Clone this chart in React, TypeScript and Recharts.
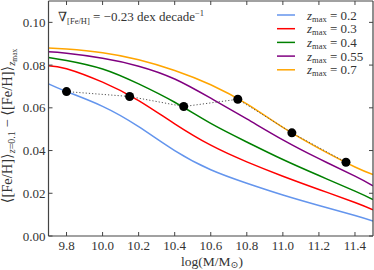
import React from 'react';
import { LineChart, Line, XAxis, YAxis, Customized } from 'recharts';

const masses = [9.7, 9.8, 10.0, 10.2, 10.4, 10.6, 10.8, 11.0, 11.2, 11.4, 11.5];
const z02 = [0.0712, 0.0676, 0.0607, 0.0512, 0.0400, 0.0310, 0.0247, 0.0192, 0.0143, 0.0096, 0.0070];
const z03 = [0.0797, 0.0783, 0.0720, 0.0634, 0.0525, 0.0425, 0.0347, 0.0280, 0.0218, 0.0157, 0.0123];
const z04 = [0.0836, 0.0822, 0.0782, 0.0712, 0.0626, 0.0527, 0.0440, 0.0358, 0.0283, 0.0210, 0.0171];
const z055 = [0.0862, 0.0855, 0.0832, 0.0795, 0.0735, 0.0645, 0.0548, 0.0450, 0.0362, 0.0280, 0.0235];
const z07 = [0.0880, 0.0875, 0.0858, 0.0825, 0.0775, 0.0708, 0.0618, 0.0508, 0.0410, 0.0323, 0.0288];

const dotMasses = [9.8, 10.15, 10.45, 10.75, 11.05, 11.35];
const dotValues = [0.0676, 0.0653, 0.0606, 0.064, 0.0483, 0.0345];

const xTicks = [9.8, 10.0, 10.2, 10.4, 10.6, 10.8, 11.0, 11.2, 11.4];
const yTicks = [0.0, 0.02, 0.04, 0.06, 0.08, 0.1];

const seriesNames = ['0.2', '0.3', '0.4', '0.55', '0.7'];
const seriesKeys = ['z02', 'z03', 'z04', 'z055', 'z07'];
const seriesColors = ['#6495ED', '#FF0000', '#008000', '#800080', '#FFA500'];
const seriesValues = [z02, z03, z04, z055, z07];

const data = masses.map((m, i) => {
  const row: Record<string, number> = { m };
  seriesKeys.forEach((k, j) => {
    row[k] = seriesValues[j][i];
  });
  return row;
});
const dotData = dotMasses.map((m, i) => ({ m, v: dotValues[i] }));

const FONT = '"Liberation Serif", "DejaVu Serif", serif';
const TXT = '#333';
const FRAME = '#444';

const BottomTick = (p: any) => (
  <g>
    <line x1={p.x} y1={p.y} x2={p.x} y2={p.y - 4} stroke={FRAME} strokeWidth={1} />
    <text x={p.x} y={p.y + 14} textAnchor="middle" fontFamily={FONT} fontSize={13} fill={TXT}>
      {Number(p.payload.value).toFixed(1)}
    </text>
  </g>
);
const TopTick = (p: any) => (
  <line x1={p.x} y1={p.y} x2={p.x} y2={p.y + 4} stroke={FRAME} strokeWidth={1} />
);
const LeftTick = (p: any) => (
  <g>
    <line x1={p.x} y1={p.y} x2={p.x + 4} y2={p.y} stroke={FRAME} strokeWidth={1} />
    <text x={p.x - 3} y={p.y + 4.5} textAnchor="end" fontFamily={FONT} fontSize={13} fill={TXT}>
      {Number(p.payload.value).toFixed(2)}
    </text>
  </g>
);
const RightTick = (p: any) => (
  <line x1={p.x} y1={p.y} x2={p.x - 4} y2={p.y} stroke={FRAME} strokeWidth={1} />
);

const Extras = () => (
  <g fontFamily={FONT} fill={TXT}>
    <text x={58} y={21} fontSize={13}>
      <tspan>∇</tspan>
      <tspan fontSize={8.5} dy={3}>[Fe/H]</tspan>
      <tspan dy={-3}> = −0.23 dex decade</tspan>
      <tspan fontSize={8.5} dy={-5}>−1</tspan>
    </text>
    <text transform="translate(12,126) rotate(-90)" textAnchor="middle" fontSize={14.5}>
      <tspan>⟨[Fe/H]⟩</tspan>
      <tspan fontSize={10} dy={3} fontStyle="italic">z</tspan>
      <tspan fontSize={10}>=0.1</tspan>
      <tspan dy={-3}> − ⟨[Fe/H]⟩</tspan>
      <tspan fontSize={10.5} dy={3} fontStyle="italic">z</tspan>
      <tspan fontSize={7.5} dy={1.5}>max</tspan>
    </text>
    <text x={212} y={266} textAnchor="middle" fontSize={13.5}>
      log(M/M<tspan fontSize={9.5} dy={2}>⊙</tspan><tspan dy={-2}>)</tspan>
    </text>
    {seriesNames.map((n, i) => (
      <g key={n}>
        <line x1={277} x2={295} y1={15 + i * 13.7} y2={15 + i * 13.7} stroke={seriesColors[i]} strokeWidth={1.5} />
        <text x={307} y={19.5 + i * 13.7} fontSize={13}>
          <tspan fontStyle="italic">z</tspan>
          <tspan fontSize={8.5} dy={2}>max</tspan>
          <tspan dy={-2}> = {n}</tspan>
        </text>
      </g>
    ))}
  </g>
);

export default function App() {
  return (
    <div style={{ position: 'absolute', left: 0, top: 0 }}>
      <LineChart width={374} height={270} data={data} margin={{ top: 0, right: 0, bottom: 14, left: 0 }}>
        <XAxis
          dataKey="m"
          type="number"
          domain={[9.7, 11.5]}
          ticks={xTicks}
          allowDataOverflow
          height={20}
          tickSize={0}
          tickMargin={0}
          tickLine={false}
          tick={<BottomTick />}
          axisLine={{ stroke: FRAME, strokeWidth: 1.2 }}
        />
        <XAxis
          xAxisId="top"
          orientation="top"
          dataKey="m"
          type="number"
          domain={[9.7, 11.5]}
          ticks={xTicks}
          allowDataOverflow
          height={1}
          tickSize={0}
          tickMargin={0}
          tickLine={false}
          tick={<TopTick />}
          axisLine={{ stroke: FRAME, strokeWidth: 1.2 }}
        />
        <YAxis
          type="number"
          domain={[0, 0.11]}
          ticks={yTicks}
          allowDataOverflow
          width={48.5}
          tickSize={0}
          tickMargin={0}
          tickLine={false}
          tick={<LeftTick />}
          axisLine={{ stroke: FRAME, strokeWidth: 1.2 }}
        />
        <YAxis
          yAxisId="right"
          orientation="right"
          type="number"
          domain={[0, 0.11]}
          ticks={yTicks}
          allowDataOverflow
          width={1}
          tickSize={0}
          tickMargin={0}
          tickLine={false}
          tick={<RightTick />}
          axisLine={{ stroke: FRAME, strokeWidth: 1.2 }}
        />
        {seriesKeys.map((k, i) => (
          <Line
            key={k}
            dataKey={k}
            type="natural"
            stroke={seriesColors[i]}
            strokeWidth={1.5}
            dot={false}
            activeDot={false}
            isAnimationActive={false}
          />
        ))}
        <Line
          data={dotData}
          dataKey="v"
          type="linear"
          stroke="#555"
          strokeWidth={1}
          strokeDasharray="1.2 2"
          dot={{ r: 4.5, fill: '#000', stroke: 'none' }}
          activeDot={false}
          isAnimationActive={false}
        />
        <Customized component={Extras} />
      </LineChart>
    </div>
  );
}
